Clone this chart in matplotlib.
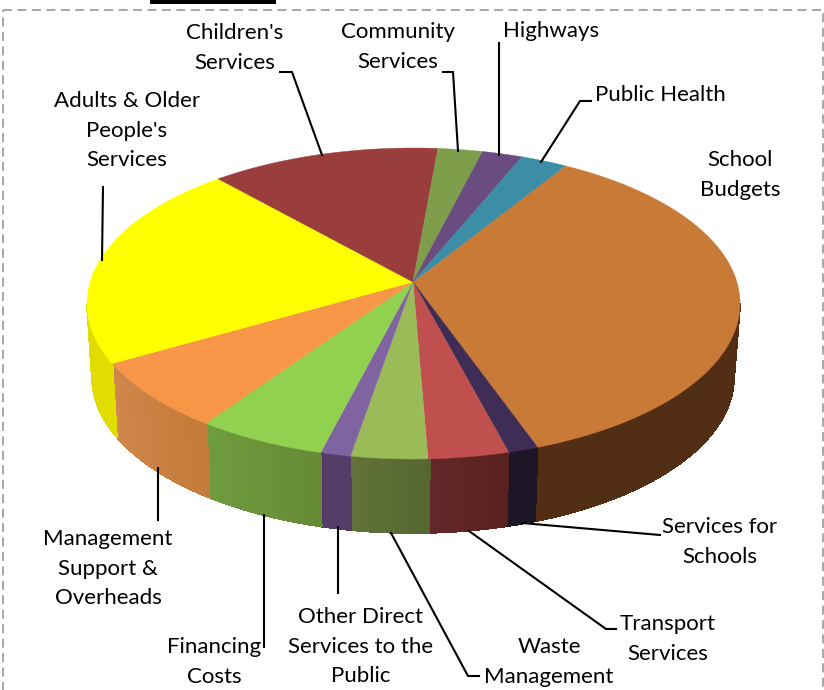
#!/usr/bin/env python3
"""Budget split drawn as a tilted 3D pie with leader lines."""

import matplotlib

matplotlib.use("Agg")
import matplotlib.pyplot as plt
import numpy as np
from matplotlib.collections import PolyCollection
from matplotlib.colors import to_rgb
from matplotlib.patches import Polygon, Rectangle

# clockwise from the start angle
CATEGORIES = [
    "School Budgets",
    "Services for Schools",
    "Transport Services",
    "Waste Management",
    "Other Direct Services to the Public",
    "Financing Costs",
    "Management Support & Overheads",
    "Adults & Older People's Services",
    "Children's Services",
    "Community Services",
    "Highways",
    "Public Health",
]
SHARES = [36.1, 1.5, 4.0, 3.8, 1.5, 6.4, 7.7, 21.1, 11.4, 2.2, 2.0, 2.3]

TOP_COLORS = [
    "#c97a37", "#3f2d55", "#bf504d", "#9bbb59", "#8064a2", "#92d050",
    "#f79646", "#ffff00", "#993e3c", "#7f9e4c", "#6b4c80", "#3b8ea5",
]
SIDE_LEFT = [
    "#522f14", "#1c1626", "#65272a", "#627238", "#533c68", "#709c3f",
    "#d0874c", "#e2dd00", "#6e2a28", "#5f7636", "#4d3760", "#2b6878",
]
SIDE_RIGHT = [
    "#522f14", "#1c1626", "#59211f", "#556632", "#533c68", "#648a35",
    "#c47a38", "#e2dd00", "#6e2a28", "#5f7636", "#4d3760", "#2b6878",
]

START_ANGLE = 62.3
APEX = (413, 282)
TOP_RIM = (413.5, 303.5, 326.5, 155.5)
BOTTOM_RIM = (413, 377, 321, 156)

# text lines, centre x, first line y
LABELS = [
    (["Children's", "Services"], 235, 33),
    (["Community", "Services"], 398, 32),
    (["Highways"], 551, 31),
    (["Public Health"], 660, 95),
    (["School", "Budgets"], 740, 160),
    (["Adults & Older", "People's", "Services"], 127, 101),
    (["Services for", "Schools"], 720, 527),
    (["Transport", "Services"], 668, 624),
    (["Waste", "Management"], 549, 647),
    (["Other Direct", "Services to the", "Public"], 361, 617),
    (["Financing", "Costs"], 214, 647),
    (["Management", "Support &", "Overheads"], 108, 539),
]
LEADERS = [
    [(280, 72), (292, 72), (322, 155)],
    [(443, 72), (453, 72), (458, 151)],
    [(499, 43), (499, 155)],
    [(591, 101), (580, 101), (541, 162)],
    [(103, 187), (102, 260)],
    [(158, 468), (158, 520)],
    [(264, 515), (264, 647)],
    [(338, 527), (338, 593)],
    [(391, 533), (468, 676), (479, 676)],
    [(469, 531), (606, 629), (616, 629)],
    [(522, 523), (660, 535)],
]


def rim_points(rim, angles):
    cx, cy, rx, ry = rim
    rad = np.radians(angles)
    return np.column_stack([cx + rx * np.cos(rad), cy - ry * np.sin(rad)])


def draw_side(ax, t0, t1, left, right):
    # only the front half of the wall shows
    angles = np.arange(t1, t0 + 0.5, 1.0)
    angles = np.unique(np.clip(np.append(angles, t0), -180, 0))
    if len(angles) < 2:
        return
    top = rim_points(TOP_RIM, angles)
    bottom = rim_points(BOTTOM_RIM, angles)
    quads = [
        [top[i], top[i + 1], bottom[i + 1], bottom[i]]
        for i in range(len(angles) - 1)
    ]
    frac = np.linspace(0, 1, len(quads))[:, None]
    # t increases to the right, so the low angle end takes the left colour
    colors = np.array(to_rgb(left)) * (1 - frac) + np.array(to_rgb(right)) * frac
    ax.add_collection(
        PolyCollection(quads, facecolors=colors, edgecolors=colors, linewidths=0.6,
                       antialiaseds=False, zorder=2)
    )


def main():
    fig = plt.figure(figsize=(8.24, 6.9), dpi=100)
    ax = fig.add_axes([0, 0, 1, 1])
    ax.set_xlim(0, 824)
    ax.set_ylim(690, 0)
    ax.axis("off")

    shares = np.array(SHARES) / np.sum(SHARES) * 360
    ends = START_ANGLE - np.cumsum(shares)
    starts = np.concatenate([[START_ANGLE], ends[:-1]])

    for t0, t1, left, right in zip(starts, ends, SIDE_LEFT, SIDE_RIGHT):
        draw_side(ax, t0, t1, left, right)

    for t0, t1, color in zip(starts, ends, TOP_COLORS):
        angles = np.linspace(t0, t1, max(int(t0 - t1) * 2, 4))
        pts = np.vstack([APEX, rim_points(TOP_RIM, angles)])
        ax.add_patch(Polygon(pts, facecolor=color, edgecolor=color, linewidth=0.3, zorder=3))

    for path in LEADERS:
        xs, ys = zip(*path)
        ax.plot(xs, ys, color="black", linewidth=1.5, solid_joinstyle="miter", zorder=4)

    for lines, x, y in LABELS:
        for i, line in enumerate(lines):
            ax.text(x, y + i * 29.7, line, ha="center", va="center",
                    fontsize=16, family="Lato", color="black", zorder=5)

    # dashed frame runs past the canvas at the bottom
    ax.add_patch(Rectangle((3, 10), 820, 700, fill=False, edgecolor="#a0a0a0",
                           linewidth=1.3, linestyle=(0, (5, 3)), zorder=1))
    ax.add_patch(Rectangle((150, 0), 126, 4, facecolor="black", edgecolor="none", zorder=1))

    fig.savefig("out.png", dpi=100)
    plt.close(fig)


if __name__ == "__main__":
    main()
